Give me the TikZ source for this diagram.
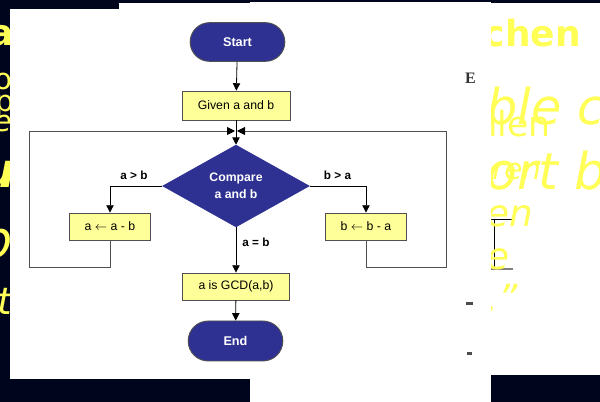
\documentclass[tikz,border=0pt]{standalone}
\usepackage{fontspec}
\setmainfont{Liberation Sans}
\newfontfamily\slidefont{DejaVu Sans}
\newfontfamily\markfont{Liberation Serif}
\usetikzlibrary{shapes.geometric,shapes.misc,arrows.meta}

\definecolor{bgnavy}{RGB}{0,5,30}
\definecolor{termfill}{RGB}{46,49,146}
\definecolor{procfill}{RGB}{255,255,153}
\definecolor{edgegray}{RGB}{80,80,80}
\definecolor{slideyellow}{RGB}{255,255,85}

\tikzset{
  term/.style={rounded rectangle, fill=termfill, draw=edgegray, line width=0.7pt,
    text=white, font=\bfseries\fontsize{9.5}{11}\selectfont,
    minimum width=71pt, minimum height=29pt, inner sep=0pt},
  proc/.style={rectangle, fill=procfill, draw=edgegray, line width=0.6pt,
    font=\fontsize{9.2}{11}\selectfont, inner sep=0pt},
  decision/.style={diamond, aspect=1.8, fill=termfill, draw=termfill,
    text=white, font=\bfseries\fontsize{9.2}{12.6}\selectfont, align=center,
    minimum width=110pt, minimum height=61.5pt, inner sep=0pt},
  branchlabel/.style={font=\bfseries\fontsize{8.8}{10}\selectfont, inner sep=0pt},
  flow/.style={draw=black, line width=0.6pt, -{Triangle[length=5.5pt,width=5.5pt]}},
  backflow/.style={draw=edgegray, line width=0.7pt,
    -{Triangle[length=6pt,width=6pt,color=black,fill=black]}},
  slideword/.style={text=slideyellow, inner sep=0pt},
}

\begin{document}
\begin{tikzpicture}[x=0.75pt,y=-0.75pt]
\useasboundingbox (0,0) rectangle (600,402);

% dark slide background and the white sheet on the right
\fill[bgnavy] (0,0) rectangle (600,402);
\fill[white] (491,3) rectangle (600,375);

% bits of ruled figure on the right sheet
\draw[black, line width=0.7pt] (491,219) -- (512,219);
\draw[black, line width=0.7pt] (494,219) -- (494,269);
\draw[gray, line width=1.2pt] (491,269) -- (513,269);

% yellow slide lettering
\node[slideword, anchor=base east, font=\slidefont\bfseries\fontsize{27}{30}\selectfont] at (581,47) {chen};
\node[slideword, anchor=base west, font=\slidefont\itshape\fontsize{37}{40}\selectfont] at (486,125) {ble c};
\node[slideword, anchor=base west, font=\slidefont\fontsize{26}{30}\selectfont] at (488,137) {llen};
\node[slideword, anchor=base west, font=\slidefont\itshape\fontsize{38}{40}\selectfont] at (486,190) {ort b};
\node[slideword, anchor=base west, font=\slidefont\itshape\fontsize{22}{26}\selectfont] at (492,180) {ren};
\node[slideword, anchor=base west, font=\slidefont\itshape\fontsize{28}{30}\selectfont] at (486,227) {en};
\node[slideword, anchor=base west, font=\slidefont\itshape\fontsize{28}{30}\selectfont] at (486,270) {e};
\node[slideword, anchor=base west, font=\slidefont\itshape\fontsize{28}{30}\selectfont] at (486,312) {.”};

\node[slideword, anchor=base east, font=\slidefont\bfseries\fontsize{27}{30}\selectfont] at (14,46) {pa};
\node[slideword, anchor=base east, font=\slidefont\fontsize{22}{26}\selectfont] at (13,90) {o};
\node[slideword, anchor=base east, font=\slidefont\fontsize{22}{26}\selectfont] at (14,112) {p};
\node[slideword, anchor=base east, font=\slidefont\itshape\fontsize{22}{26}\selectfont] at (12,132) {e};
\node[slideword, anchor=base east, font=\slidefont\bfseries\itshape\fontsize{36}{40}\selectfont] at (16,188) {u};
\node[slideword, anchor=base east, font=\slidefont\itshape\fontsize{38}{40}\selectfont] at (13,258) {p};
\node[slideword, anchor=base east, font=\slidefont\itshape\fontsize{28}{30}\selectfont] at (12,315) {t};

% white sheets carrying the flowchart
\fill[white] (10,9) rectangle (250,379);
\fill[white] (119,3) rectangle (250,9);
\fill[white] (250,2) rectangle (491,402);

% stray marks on the sheet
\node[text=black!80, inner sep=0pt, font=\markfont\bfseries\fontsize{12}{14}\selectfont] at (470.5,78) {E};
\fill[black!70] (466,302) rectangle (473,305);
\fill[black!70] (467,352) rectangle (472,355);

% flowchart nodes
\node[term] (start) at (237.5,42) {Start};
\node[proc, minimum width=81pt, minimum height=21.75pt] (given) at (236,105.5) {Given a and b};
\coordinate (merge) at (236,131);
\node[decision] (cmp) at (236,186) {Compare\\a and b};
\node[proc, minimum width=60.75pt, minimum height=20.25pt] (abox) at (110,226.5) {a $\leftarrow$ a - b};
\node[proc, minimum width=60.75pt, minimum height=20.25pt] (bbox) at (366,226.5) {b $\leftarrow$ b - a};
\node[proc, minimum width=80.25pt, minimum height=20.25pt] (gcd) at (236,286.5) {a is GCD(a,b)};
\node[term, minimum height=30pt] (end) at (235.5,341) {End};

% loop corners
\coordinate (lb) at (29,267);
\coordinate (lt) at (29,131);
\coordinate (rb) at (446,267);
\coordinate (rt) at (446,131);
\coordinate (mergeL) at (235,131);
\coordinate (mergeR) at (237,131);

% connectors
\draw[flow] (start) -- (given);
\draw[flow] (given) -- (cmp);
\draw[flow] (cmp.west) -| (abox.north);
\draw[flow] (cmp.east) -| (bbox.north);
\draw[flow] (cmp.south) -- (gcd.north);
\draw[flow] (gcd) -- (end);
\draw[backflow] (abox.south) |- (lb) -- (lt) -- (mergeL);
\draw[backflow] (bbox.south) |- (rb) -- (rt) -- (mergeR);

% branch labels
\node[branchlabel] (lgt) at (134,175) {a > b};
\node[branchlabel] (rgt) at (337.5,175) {b > a};
\node[branchlabel] (leq) at (256,242) {a = b};
\end{tikzpicture}
\end{document}
